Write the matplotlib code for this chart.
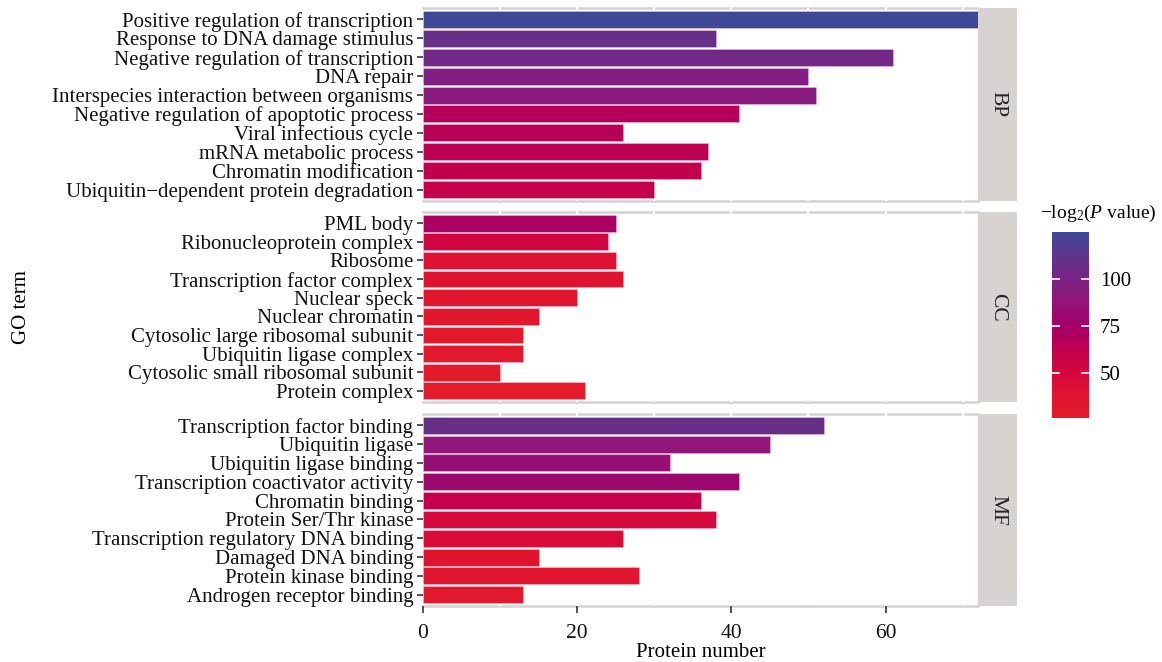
import numpy as np
import matplotlib
matplotlib.use('Agg')
import matplotlib.pyplot as plt
from matplotlib.colors import LinearSegmentedColormap, Normalize
from matplotlib.cm import ScalarMappable

plt.rcParams['font.family'] = ['Liberation Serif', 'DejaVu Serif']
plt.rcParams['mathtext.fontset'] = 'custom'
plt.rcParams['mathtext.rm'] = 'Liberation Serif'
plt.rcParams['mathtext.it'] = 'Liberation Serif:italic'

# GO terms per category (top to bottom)
bp_terms = ['Positive regulation of transcription', 'Response to DNA damage stimulus',
            'Negative regulation of transcription', 'DNA repair',
            'Interspecies interaction between organisms', 'Negative regulation of apoptotic process',
            'Viral infectious cycle', 'mRNA metabolic process', 'Chromatin modification',
            'Ubiquitin\u2212dependent protein degradation']
bp_count = [72, 38, 61, 50, 51, 41, 26, 37, 36, 30]
bp_logp = [125, 108, 104, 97, 93, 68, 66, 64, 62, 60]

cc_terms = ['PML body', 'Ribonucleoprotein complex', 'Ribosome', 'Transcription factor complex',
            'Nuclear speck', 'Nuclear chromatin', 'Cytosolic large ribosomal subunit',
            'Ubiquitin ligase complex', 'Cytosolic small ribosomal subunit', 'Protein complex']
cc_count = [25, 24, 25, 26, 20, 15, 13, 13, 10, 21]
cc_logp = [72, 52, 40, 39, 34, 32, 30, 29, 28, 26]

mf_terms = ['Transcription factor binding', 'Ubiquitin ligase', 'Ubiquitin ligase binding',
            'Transcription coactivator activity', 'Chromatin binding', 'Protein Ser/Thr kinase',
            'Transcription regulatory DNA binding', 'Damaged DNA binding',
            'Protein kinase binding', 'Androgen receptor binding']
mf_count = [52, 45, 32, 41, 36, 38, 26, 15, 28, 13]
mf_logp = [108, 90, 85, 80, 60, 48, 46, 35, 33, 30]

categories = ['BP', 'CC', 'MF']
legend_ticks = [50, 75, 100]
x_ticks = [0, 20, 40, 60]

# red -> magenta -> blue gradient (ggplot-like Lab look)
vmin, vmax = 26, 125
stops = [(26, '#E31B2B'), (40, '#DD1232'), (50, '#D4063E'), (62, '#C2004E'),
         (75, '#A3006A'), (88, '#921577'), (100, '#7A2185'), (112, '#5E358A'),
         (125, '#3E4897')]
cmap = LinearSegmentedColormap.from_list(
    'gr', [((v - vmin) / (vmax - vmin), c) for v, c in stops])
norm = Normalize(vmin, vmax)

W, H = 1162, 662
fig = plt.figure(figsize=(W / 100, H / 100), dpi=100)


def rect(l, t, r, b):
    return [l / W, 1 - b / H, (r - l) / W, (b - t) / H]


panels = [(bp_terms, bp_count, bp_logp, 8, 201),
          (cc_terms, cc_count, cc_logp, 212, 402),
          (mf_terms, mf_count, mf_logp, 414, 606)]

for i, (terms, counts, logp, top, bot) in enumerate(panels):
    ax = fig.add_axes(rect(423, top, 978, bot))
    y = np.arange(len(terms))
    ax.barh(y, counts, height=0.9, color=cmap(norm(np.array(logp))),
            edgecolor=(1, 0.8, 0.92, 0.7), linewidth=0.4, zorder=3)
    ax.set_xlim(0, 72)
    ax.set_ylim(len(terms) - 0.4, -0.6)
    for s in ax.spines.values():
        s.set_visible(False)
    # panel borders
    ax.plot([0, 1], [1, 1], transform=ax.transAxes, color='#D2D2D2', lw=1.8,
            clip_on=False, zorder=1)
    ax.plot([0, 1], [0, 0], transform=ax.transAxes, color='#D2D2D2', lw=1.8,
            clip_on=False, zorder=1)
    ax.vlines(np.arange(10, 80, 10), -0.75, len(terms) - 0.4, color='white',
              lw=1.6, zorder=2, clip_on=False)
    ax.set_yticks(y)
    ax.set_yticklabels(terms, fontsize=15, color='#111111')
    ax.tick_params(axis='y', length=4, width=1.2, color='#333333', pad=3)
    if i == 2:
        ax.set_xticks(x_ticks)
        ax.tick_params(axis='x', length=5, width=1.2, color='#333333',
                       labelsize=15.5, pad=8, labelcolor='#111111')
        ax.set_xlabel('Protein number', fontsize=15, labelpad=0)
    else:
        ax.set_xticks([])

    sax = fig.add_axes(rect(978, top, 1017, bot))
    sax.set_facecolor('#D7D3D1')
    sax.set_xticks([])
    sax.set_yticks([])
    for s in sax.spines.values():
        s.set_visible(False)
    sax.text(0.5, 0.5, categories[i], rotation=-90, ha='center', va='center',
             fontsize=15.5, transform=sax.transAxes, color='#222222')

fig.text(22 / W, 1 - 307 / H, 'GO term', rotation=90, ha='center', va='center',
         fontsize=15)

cax = fig.add_axes(rect(1052, 232, 1089, 418))
cb = fig.colorbar(ScalarMappable(norm=norm, cmap=cmap), cax=cax)
cb.outline.set_visible(False)
cb.set_ticks(legend_ticks)
cax.tick_params(axis='y', left=True, right=True, direction='in', length=6,
                width=1.2, color='white', labelsize=15, pad=8)
fig.text(1040 / W, 1 - 213 / H, '\u2212log$_2$($\\it{P}$ value)', ha='left',
         va='center', fontsize=14)

fig.savefig('out.png', dpi=100)
